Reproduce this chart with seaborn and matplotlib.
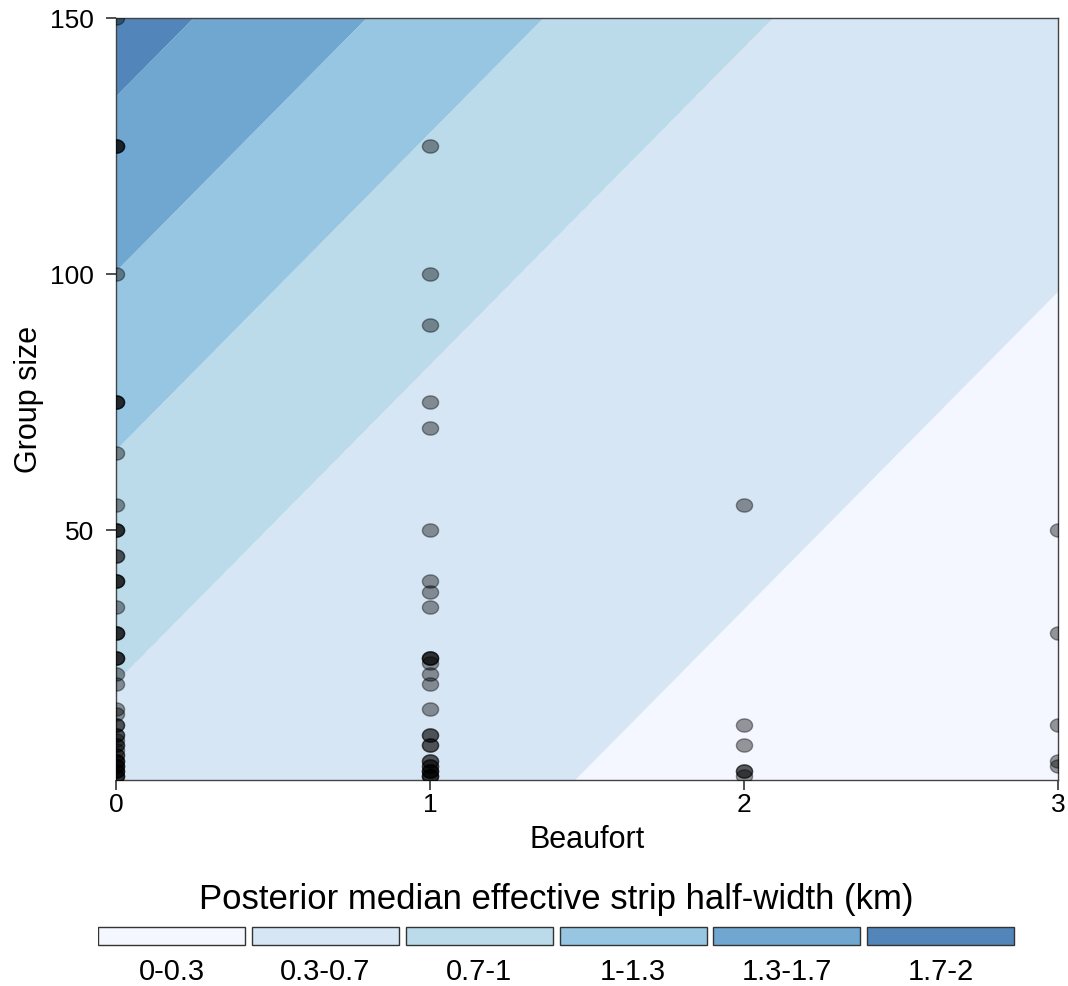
import numpy as np
import pandas as pd
import seaborn as sns
import matplotlib.pyplot as plt
from matplotlib.patches import Rectangle
from matplotlib.path import Path

sns.set_theme(style="ticks")
plt.rcParams['font.family'] = ['Liberation Sans', 'DejaVu Sans']
plt.rcParams['text.color'] = 'black'
plt.rcParams['axes.labelcolor'] = 'black'

# sightings: Beaufort state and group size (duplicates = overlapping points)
beaufort_0 = [150, 125, 125, 125, 100, 75, 75, 75, 65, 55, 50, 50, 50, 45, 45, 40, 40, 40,
              35, 30, 30, 30, 25, 25, 25, 22, 20, 15, 14, 12, 12, 10, 10, 9, 8, 8, 7,
              6, 6, 5, 5, 5, 4, 4, 4, 3, 3, 3, 2, 2, 2]
beaufort_1 = [125, 100, 90, 75, 70, 50, 40, 38, 35, 25, 25, 25, 24, 22, 20, 15, 10, 10,
              8, 8, 5, 5, 4, 4, 3, 3, 3, 2, 2, 2]
beaufort_2 = [55, 12, 8, 3, 3, 2]
beaufort_3 = [50, 30, 12, 5, 4]

# effective strip half-width bands (km)
band_levels = [0, 1/3, 2/3, 1, 4/3, 5/3, 2]
band_labels = ["0-0.3", "0.3-0.7", "0.7-1", "1-1.3", "1.3-1.7", "1.7-2"]
# where each band boundary meets Beaufort = 0 (group size), and boundary slope
band_breaks = [-190, -89.5, 20.3, 65.6, 100.5, 134.7, 160]
break_slope = 62.0
band_colors = ["#F4F7FF", "#D7E6F4", "#BBDAEA", "#97C6E2", "#6FA7D1", "#5285BA"]

df = pd.DataFrame({
    "Beaufort": [0] * len(beaufort_0) + [1] * len(beaufort_1)
                + [2] * len(beaufort_2) + [3] * len(beaufort_3),
    "Group size": beaufort_0 + beaufort_1 + beaufort_2 + beaufort_3,
})

fig = plt.figure(figsize=(10.68, 9.86), dpi=100)
ax = fig.add_axes([0.1086, 0.2089, 0.882, 0.7728])

gx = np.linspace(0, 3, 301)
gy = np.linspace(0, 150, 301)
X, Y = np.meshgrid(gx, gy)
Z = np.interp(Y - break_slope * X, band_breaks, band_levels)
ax.contourf(X, Y, Z, levels=band_levels, colors=band_colors, antialiased=True)

# slightly wide oval marker, as in the original
t = np.linspace(0, 2 * np.pi, 60)
oval = Path(np.column_stack([1.22 * np.cos(t), np.sin(t)]), closed=True)

sns.scatterplot(data=df, x="Beaufort", y="Group size", ax=ax, s=135, marker=oval,
                color="black", alpha=0.4, edgecolor="black", linewidth=1.0,
                zorder=3, legend=False)

ax.set_xlim(0, 3)
ax.set_ylim(1.2, 150)
ax.set_xticks([0, 1, 2, 3])
ax.set_yticks([50, 100, 150])
ax.tick_params(labelsize=19, length=7, width=1.2, color="#333333", labelcolor="black",
               pad=2)
ax.tick_params(axis="y", pad=9)
for sp in ax.spines.values():
    sp.set_color("#444444")
    sp.set_linewidth(1.0)
ax.set_xlabel("Beaufort", fontsize=22, labelpad=6)
ax.set_ylabel("Group size", fontsize=22, labelpad=4)

# legend strip underneath
lax = fig.add_axes([98 / 1068, 0, (1021 - 98) / 1068, 126 / 986])
lax.set_xlim(0, 6)
lax.set_ylim(986, 860)
lax.axis("off")
for i, (c, lab) in enumerate(zip(band_colors, band_labels)):
    lax.add_patch(Rectangle((i, 927), 0.956, 18, facecolor=c,
                            edgecolor="#333333", linewidth=1.0))
    lax.text(i + 0.478, 972, lab, ha="center", va="center", fontsize=21)
lax.text(2.978, 900, "Posterior median effective strip half-width (km)",
         ha="center", va="center", fontsize=25)

fig.savefig("out.png", dpi=100)
